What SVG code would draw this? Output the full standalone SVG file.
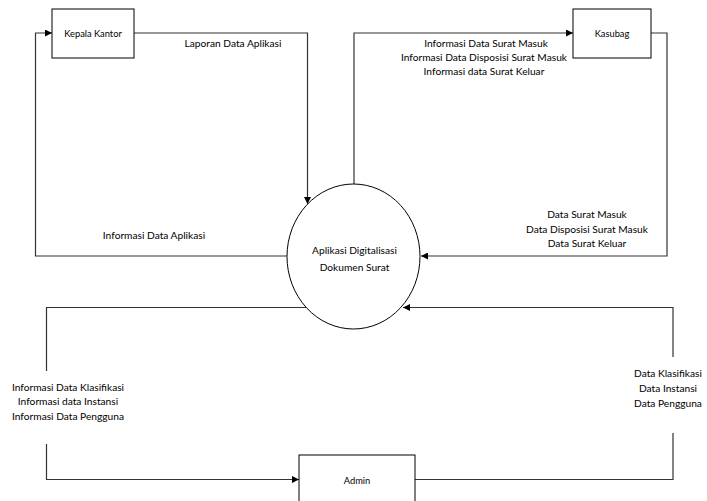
<svg xmlns="http://www.w3.org/2000/svg" width="707" height="501" viewBox="0 0 707 501">
  <defs>
    <marker id="arrow" viewBox="0 0 8 8" refX="8" refY="4" markerWidth="7" markerHeight="7" markerUnits="userSpaceOnUse" orient="auto">
      <path d="M0,0 L8,4 L0,8 Z" fill="#000"/>
    </marker>
    <style>
      .box { fill: #fff; stroke: #000; stroke-width: 1; }
      .flow { fill: none; stroke: #333; stroke-width: 1.2; }
      .lbl { font-family: "Lato", "Liberation Sans", sans-serif; font-size: 10.2px; fill: #000; text-anchor: middle; }
    </style>
  </defs>
  <rect width="707" height="501" fill="#fff"/>

  <g id="connectors">
    <!-- Kepala Kantor -> process -->
    <path class="flow" d="M134,33 H307.5 V204" marker-end="url(#arrow)"/>
    <!-- process -> Kepala Kantor -->
    <path class="flow" d="M288,256 H35.5 V33 H52" marker-end="url(#arrow)"/>
    <!-- process -> Kasubag -->
    <path class="flow" d="M354,184 V33 H573" marker-end="url(#arrow)"/>
    <!-- Kasubag -> process -->
    <path class="flow" d="M651,33 H667 V256 H421" marker-end="url(#arrow)"/>
    <!-- process -> Admin (split around its label) -->
    <path class="flow" d="M307,307.5 H46.5 V371"/>
    <path class="flow" d="M46.5,444 V479.5 H299" marker-end="url(#arrow)"/>
    <!-- Admin -> process (split around its label) -->
    <path class="flow" d="M415,479.5 H673 V433"/>
    <path class="flow" d="M673,357 V307.5 H403" marker-end="url(#arrow)"/>
  </g>

  <g id="process">
    <ellipse cx="353.5" cy="256.5" rx="66.5" ry="72.5" fill="#fff" stroke="#000" stroke-width="1"/>
    <text class="lbl" x="354.5" y="254">Aplikasi Digitalisasi</text>
    <text class="lbl" x="354.5" y="271">Dokumen Surat</text>
  </g>

  <g id="kepala-kantor">
    <rect class="box" x="52" y="9" width="82" height="49"/>
    <text class="lbl" x="93" y="37" style="font-size:9.3px">Kepala Kantor</text>
  </g>

  <g id="kasubag">
    <rect class="box" x="573" y="9" width="78" height="49"/>
    <text class="lbl" x="612" y="37" style="font-size:9.3px">Kasubag</text>
  </g>

  <g id="admin">
    <rect class="box" x="299" y="455" width="116" height="52"/>
    <text class="lbl" x="357" y="484" style="font-size:9.3px">Admin</text>
  </g>

  <g id="labels">
    <text class="lbl" x="233" y="47">Laporan Data Aplikasi</text>
    <text class="lbl" x="154" y="239">Informasi Data Aplikasi</text>
    <text class="lbl" x="486" y="47">Informasi Data Surat Masuk</text>
    <text class="lbl" x="484" y="61">Informasi Data Disposisi Surat Masuk</text>
    <text class="lbl" x="484" y="75">Informasi data Surat Keluar</text>
    <text class="lbl" x="587" y="218">Data Surat Masuk</text>
    <text class="lbl" x="587" y="233">Data Disposisi Surat Masuk</text>
    <text class="lbl" x="587" y="247">Data Surat Keluar</text>
    <text class="lbl" x="68" y="391">Informasi Data Klasifikasi</text>
    <text class="lbl" x="68" y="405">Informasi data Instansi</text>
    <text class="lbl" x="68" y="420">Informasi Data Pengguna</text>
    <text class="lbl" x="668" y="377">Data Klasifikasi</text>
    <text class="lbl" x="668" y="392">Data Instansi</text>
    <text class="lbl" x="668" y="407">Data Pengguna</text>
  </g>
</svg>
